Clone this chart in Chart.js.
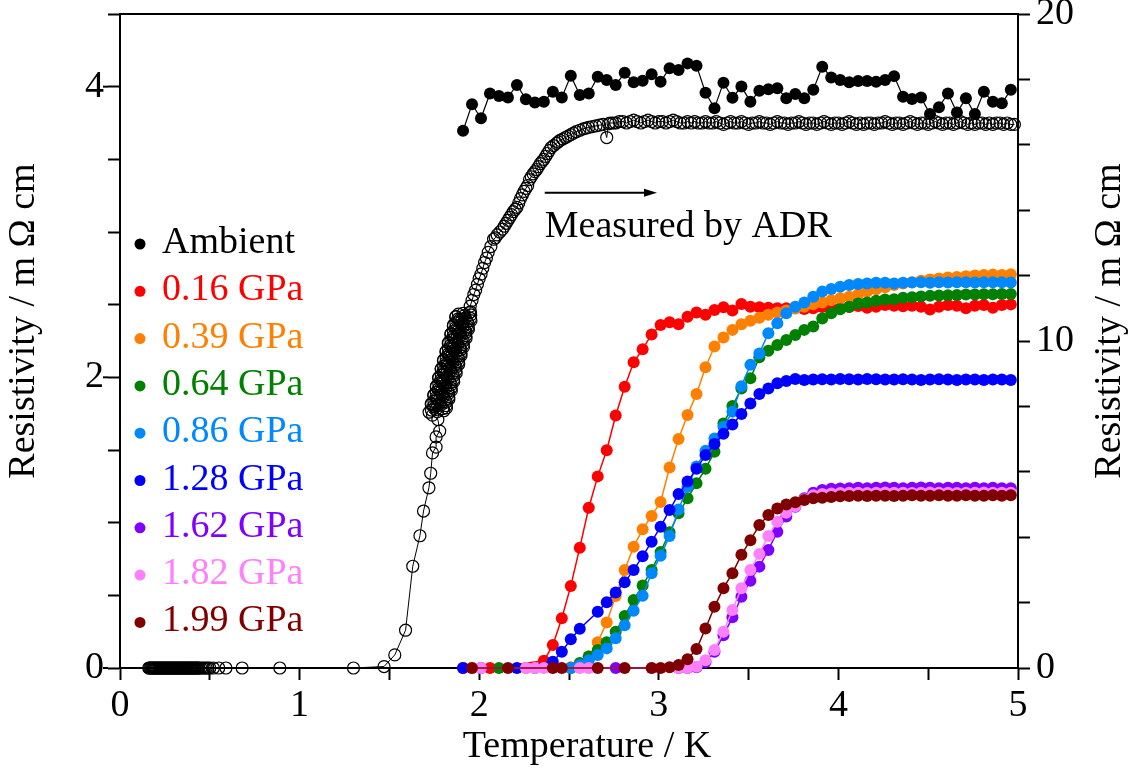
<!DOCTYPE html>
<html><head><meta charset="utf-8">
<script src="https://cdn.jsdelivr.net/npm/chart.js@4.4.1/dist/chart.umd.min.js"></script>
<style>html,body{margin:0;padding:0;background:#fff;}#wrap{width:1133px;height:782px;}</style>
</head><body><div id="wrap"><canvas id="c" width="1133" height="782"></canvas></div>
<script>
// ---------- DATA ----------
const temps = [1.91,1.96,2.01,2.06,2.11,2.16,2.21,2.26,2.31,2.36,2.41,2.46,2.51,2.56,2.61,2.66,2.71,2.76,2.81,2.86,
  2.91,2.96,3.01,3.06,3.11,3.16,3.21,3.26,3.31,3.36,3.41,3.46,3.51,3.56,3.61,3.66,3.71,3.76,3.81,3.86,
  3.91,3.96,4.01,4.06,4.11,4.16,4.21,4.26,4.31,4.36,4.41,4.46,4.51,4.56,4.61,4.66,4.71,4.76,4.81,4.86,4.91,4.96];

const ambient = [16.43,17.24,16.81,17.57,17.49,17.45,17.83,17.39,17.29,17.32,17.62,17.45,18.11,17.52,17.57,18.08,17.98,17.83,18.20,17.91,
  17.96,18.16,17.93,18.34,18.29,18.49,18.42,17.59,17.12,17.90,17.44,17.78,17.32,17.65,17.70,17.73,17.42,17.55,17.42,17.68,
  18.39,18.06,17.98,17.91,17.95,17.95,17.93,17.98,18.10,17.47,17.40,17.45,16.94,17.15,17.57,16.99,17.42,16.94,17.62,17.32,17.27,17.68];

const p016 = [0,null,null,0,null,null,null,null,null,0.22,0.70,1.52,2.51,3.68,4.90,5.86,6.66,7.72,8.60,9.35,
  9.75,10.20,10.49,10.57,10.51,10.74,10.87,10.80,10.95,11.03,10.93,11.13,11.05,11.03,11.02,11.00,11.00,11.01,10.98,11.00,
  11.04,11.00,11.00,11.04,11.07,11.02,11.05,11.10,11.08,11.06,11.08,11.05,10.96,11.05,11.10,11.08,11.00,11.08,11.10,11.02,11.10,11.12];

const p039 = [null,0,null,null,null,null,null,0,null,null,null,null,0.02,0.12,0.35,0.79,1.39,2.20,3.00,3.71,
  4.24,4.65,5.08,6.13,7.00,7.74,8.38,9.20,9.83,10.11,10.34,10.51,10.62,10.71,10.80,10.87,10.93,10.99,11.05,11.12,
  11.18,11.25,11.31,11.35,11.43,11.51,11.58,11.64,11.71,11.76,11.80,11.84,11.88,11.91,11.94,11.96,11.98,12.00,12.02,12.03,12.02,12.04];

const p064 = [null,null,null,null,0,null,null,null,null,null,null,null,0,0.15,0.35,0.55,0.79,1.11,1.59,2.08,
  2.52,3.00,3.55,4.15,4.73,5.19,5.65,6.09,6.61,7.48,8.01,8.55,8.86,9.50,9.70,9.88,10.03,10.18,10.34,10.44,
  10.69,10.85,10.97,11.05,11.15,11.18,11.23,11.27,11.28,11.32,11.34,11.36,11.38,11.39,11.40,11.41,11.42,11.42,11.43,11.43,11.44,11.44];

const p086 = [null,null,null,null,null,null,null,null,null,null,null,null,0,0.09,0.24,0.40,0.60,0.91,1.31,1.75,
  2.21,2.90,3.43,4.04,4.85,5.54,6.16,6.64,7.02,7.38,7.84,8.62,9.27,9.62,10.24,10.54,10.85,11.05,11.18,11.35,
  11.51,11.59,11.66,11.71,11.74,11.76,11.78,11.78,11.76,11.78,11.79,11.80,11.78,11.80,11.79,11.80,11.80,11.79,11.80,11.80,11.80,11.79];

const p128 = [0,null,null,null,null,null,0,null,null,null,0.19,0.50,0.88,1.20,null,1.72,2.01,2.31,2.62,3.00,
  3.42,3.86,4.32,4.83,5.32,5.70,6.09,6.51,6.85,7.16,7.45,7.77,8.09,8.38,8.55,8.71,8.78,8.84,8.81,8.82,
  8.83,8.82,8.84,8.83,8.82,8.84,8.83,8.82,8.82,8.83,8.82,8.81,8.82,8.83,8.82,8.81,8.82,8.82,8.81,8.82,8.82,8.81];

const p162 = [null,null,0,null,null,null,null,null,0,null,null,null,null,null,null,null,null,0,null,null,
  null,null,null,null,0,0,0.02,0.18,0.50,1.00,1.55,2.18,2.67,3.10,3.61,4.17,4.63,4.93,5.19,5.36,
  5.44,5.48,5.49,5.50,5.51,5.50,5.51,5.52,5.51,5.50,5.51,5.52,5.51,5.50,5.51,5.51,5.50,5.51,5.50,5.51,5.50,5.50];

const p182 = [null,null,0,null,null,null,null,0,0,0,null,null,null,0,0,null,null,null,null,null,
  null,0,null,null,0,0,0.04,0.24,0.55,1.11,1.77,2.44,3.00,3.49,4.04,4.47,4.75,4.95,5.16,5.28,
  5.32,5.34,5.35,5.36,5.36,5.35,5.36,5.37,5.36,5.36,5.35,5.36,5.37,5.36,5.36,5.35,5.36,5.36,5.37,5.36,5.36,5.36];

const p199 = [null,0,null,null,null,0,null,null,null,null,0,0,null,null,null,0,null,null,0,null,
  null,0,0,0.02,0.09,0.27,0.58,1.21,1.87,2.44,2.90,3.46,3.91,4.37,4.68,4.88,5.00,5.07,5.14,5.19,
  5.21,5.23,5.25,5.26,5.27,5.26,5.27,5.27,5.26,5.27,5.28,5.27,5.27,5.28,5.27,5.27,5.28,5.27,5.27,5.28,5.27,5.28];

// ADR (open circles), left axis: [T, rho]
const adrLow = [[0.160,0],[0.165,0],[0.170,0],[0.175,0],[0.180,0],[0.185,0],[0.190,0],[0.195,0],[0.200,0],[0.205,0],
  [0.210,0],[0.215,0],[0.220,0],[0.225,0],[0.230,0],[0.235,0],[0.240,0],[0.245,0],[0.250,0],[0.255,0],
  [0.260,0],[0.265,0],[0.270,0],[0.275,0],[0.280,0],[0.285,0],[0.290,0],[0.295,0],[0.300,0],[0.305,0],
  [0.310,0],[0.315,0],[0.320,0],[0.325,0],[0.330,0],[0.335,0],[0.340,0],[0.345,0],[0.350,0],[0.355,0],
  [0.360,0],[0.365,0],[0.370,0],[0.375,0],[0.380,0],[0.385,0],[0.390,0],[0.395,0],[0.400,0],[0.405,0],
  [0.410,0],[0.415,0],[0.420,0],[0.425,0],[0.430,0],[0.435,0],[0.440,0],[0.450,0],[0.460,0],[0.470,0],
  [0.480,0],[0.490,0],[0.500,0],[0.520,0],[0.550,0],[0.590,0],[0.680,0],[0.890,0],[1.300,0],[1.470,0.01]];
const adrRise = [[1.53,0.09],[1.59,0.26],[1.63,0.70],[1.67,0.91],[1.69,1.08],[1.72,1.24],[1.73,1.34],[1.74,1.48],
  [1.76,1.52],[1.76,1.59],[1.78,1.63],[1.77,1.71],[1.74,1.74]];
const adrBand = [[1.721,1.76],[1.803,1.77],[1.760,1.78],[1.818,1.79],[1.745,1.80],[1.787,1.81],[1.735,1.82],[1.817,1.83],
  [1.774,1.84],[1.831,1.85],[1.759,1.86],[1.801,1.87],[1.748,1.88],[1.830,1.89],[1.788,1.90],[1.845,1.91],[1.772,1.92],
  [1.814,1.93],[1.762,1.94],[1.844,1.95],[1.801,1.96],[1.858,1.97],[1.786,1.98],[1.828,1.99],[1.775,2.00],[1.857,2.01],
  [1.815,2.02],[1.872,2.03],[1.799,2.04],[1.842,2.05],[1.789,2.06],[1.871,2.07],[1.828,2.08],[1.886,2.09],[1.813,2.10],
  [1.855,2.11],[1.802,2.12],[1.885,2.13],[1.842,2.14],[1.899,2.15],[1.827,2.16],[1.869,2.17],[1.816,2.18],[1.898,2.19],
  [1.856,2.20],[1.913,2.21],[1.840,2.22],[1.882,2.23],[1.830,2.24],[1.912,2.25],[1.869,2.26],[1.927,2.27],[1.854,2.28],
  [1.896,2.29],[1.843,2.30],[1.926,2.31],[1.883,2.32],[1.940,2.33],[1.867,2.34],[1.910,2.35],[1.857,2.36],[1.939,2.37],
  [1.897,2.38],[1.954,2.39],[1.881,2.40],[1.923,2.41],[1.871,2.42],[1.953,2.43],[1.910,2.44],[1.952,2.45]];
const adrBand2 = [[1.767,1.765],[1.734,1.775],[1.797,1.785],[1.754,1.795],[1.816,1.805],[1.733,1.815],[1.781,1.825],
  [1.748,1.835],[1.810,1.845],[1.767,1.855],[1.830,1.865],[1.747,1.875],[1.794,1.885],[1.761,1.895],[1.824,1.905],
  [1.781,1.915],[1.843,1.925],[1.761,1.935],[1.808,1.945],[1.775,1.955],[1.837,1.965],[1.795,1.975],[1.857,1.985],
  [1.774,1.995],[1.821,2.005],[1.789,2.015],[1.851,2.025],[1.808,2.035],[1.870,2.045],[1.788,2.055],[1.835,2.065],
  [1.802,2.075],[1.864,2.085],[1.822,2.095],[1.884,2.105],[1.801,2.115],[1.848,2.125],[1.816,2.135],[1.878,2.145],
  [1.835,2.155],[1.898,2.165],[1.815,2.175],[1.862,2.185],[1.829,2.195],[1.892,2.205],[1.849,2.215],[1.911,2.225],
  [1.828,2.235],[1.876,2.245],[1.843,2.255],[1.905,2.265],[1.863,2.275],[1.925,2.285],[1.842,2.295],[1.889,2.305],
  [1.857,2.315],[1.919,2.325],[1.876,2.335],[1.938,2.345],[1.856,2.355],[1.903,2.365],[1.870,2.375],[1.933,2.385],
  [1.890,2.395],[1.952,2.405],[1.869,2.415],[1.917,2.425],[1.884,2.435],[1.946,2.445]];
const adrUpper = [[1.95,2.49],[1.96,2.53],[1.97,2.57],[1.98,2.60],[1.99,2.64],[2.00,2.68],[2.01,2.71],[2.02,2.75],
  [2.03,2.79],[2.04,2.82],[2.05,2.86],[2.065,2.90],[2.08,2.95],[2.09,2.96],[2.10,2.98],[2.115,3.00],[2.13,3.02],
  [2.14,3.04],[2.15,3.06],[2.16,3.08],[2.17,3.10],[2.18,3.12],[2.19,3.14],[2.20,3.155],[2.21,3.17],[2.22,3.20],
  [2.23,3.23],[2.24,3.255],[2.25,3.28],[2.26,3.30],[2.27,3.32],[2.28,3.36],[2.29,3.38],[2.30,3.40],[2.31,3.415],
  [2.32,3.43],[2.33,3.45],[2.34,3.47],[2.35,3.485],[2.36,3.50],[2.37,3.52],[2.38,3.54],[2.39,3.56],[2.40,3.58],
  [2.415,3.595],[2.43,3.61],[2.44,3.62],[2.45,3.63],[2.465,3.64],[2.48,3.65],[2.495,3.66],[2.51,3.67],[2.525,3.68],
  [2.54,3.69],[2.56,3.70],[2.58,3.71],[2.595,3.715],[2.61,3.72],[2.63,3.725],[2.65,3.73],[2.67,3.735],[2.69,3.74],
  [2.71,3.65],[2.72,3.745],[2.73,3.75],[2.745,3.75],[2.76,3.75],[2.78,3.76]];
const adrPlateau = [[2.80,3.76],[2.82,3.75],[2.84,3.76],[2.86,3.77],[2.88,3.76],[2.90,3.75],[2.92,3.76],[2.94,3.77],[2.96,3.76],[2.98,3.75],
  [3.00,3.76],[3.02,3.76],[3.04,3.75],[3.06,3.76],[3.08,3.77],[3.10,3.76],[3.12,3.75],[3.14,3.75],[3.16,3.76],[3.18,3.75],
  [3.20,3.76],[3.22,3.75],[3.24,3.75],[3.26,3.76],[3.28,3.75],[3.30,3.75],[3.32,3.76],[3.34,3.75],[3.36,3.74],[3.38,3.75],
  [3.40,3.76],[3.42,3.75],[3.44,3.75],[3.46,3.76],[3.48,3.75],[3.50,3.74],[3.52,3.75],[3.54,3.75],[3.56,3.76],[3.58,3.75],
  [3.60,3.75],[3.62,3.74],[3.64,3.75],[3.66,3.76],[3.68,3.75],[3.70,3.75],[3.72,3.74],[3.74,3.75],[3.76,3.75],[3.78,3.76],
  [3.80,3.75],[3.82,3.74],[3.84,3.75],[3.86,3.75],[3.88,3.74],[3.90,3.75],[3.92,3.76],[3.94,3.75],[3.96,3.74],[3.98,3.75],
  [4.00,3.75],[4.02,3.74],[4.04,3.75],[4.06,3.76],[4.08,3.75],[4.10,3.74],[4.12,3.75],[4.14,3.74],[4.16,3.75],[4.18,3.75],
  [4.20,3.74],[4.22,3.75],[4.24,3.75],[4.26,3.76],[4.28,3.75],[4.30,3.74],[4.32,3.75],[4.34,3.75],[4.36,3.74],[4.38,3.75],
  [4.40,3.76],[4.42,3.75],[4.44,3.74],[4.46,3.75],[4.48,3.75],[4.50,3.74],[4.52,3.75],[4.54,3.76],[4.56,3.75],[4.58,3.74],
  [4.60,3.75],[4.62,3.75],[4.64,3.74],[4.66,3.75],[4.68,3.76],[4.70,3.75],[4.72,3.74],[4.74,3.75],[4.76,3.74],[4.78,3.75],
  [4.80,3.75],[4.82,3.74],[4.84,3.75],[4.86,3.74],[4.88,3.75],[4.90,3.75],[4.92,3.74],[4.94,3.75],[4.96,3.74],[4.98,3.74]];

const seriesLabels = ['Ambient','0.16 GPa','0.39 GPa','0.64 GPa','0.86 GPa','1.28 GPa','1.62 GPa','1.82 GPa','1.99 GPa'];
const seriesColors = ['#000000','#ff0000','#ff8000','#008000','#0088ff','#0000ff','#8000ff','#ff80ff','#800000'];
const seriesValues = [ambient,p016,p039,p064,p086,p128,p162,p182,p199];

const xTickLabels = [0,1,2,3,4,5];
const yLeftTickLabels = [0,2,4];
const yRightTickLabels = [0,10,20];

// ---------- CHART ----------
const FONT = "'Liberation Serif', 'Times New Roman', serif";
Chart.defaults.font.family = FONT;
Chart.defaults.color = '#000';

const datasets = seriesValues.map((vals, i) => ({
  label: seriesLabels[i],
  data: temps.map((t, k) => vals[k] == null ? null : {x: t, y: vals[k]}).filter(Boolean),
  yAxisID: 'y2',
  showLine: true,
  borderColor: seriesColors[i],
  backgroundColor: seriesColors[i],
  borderWidth: i === 0 ? 1.2 : 1.5,
  pointRadius: 6,
  pointBorderWidth: 0,
  pointBackgroundColor: seriesColors[i],
  order: 20 - i,
  clip: false
}));
const adrAll = [].concat(adrLow, adrRise, adrBand, adrBand2, adrUpper, adrPlateau);
datasets.push({
  label: 'Ambient (ADR)',
  data: adrAll.map(p => ({x: p[0], y: p[1]})),
  yAxisID: 'y',
  showLine: true,
  borderColor: '#000',
  borderWidth: 1,
  pointRadius: 6,
  pointBackgroundColor: 'rgba(0,0,0,0)',
  pointBorderColor: '#000',
  pointBorderWidth: 1.2,
  order: 30,
  clip: false
});

const tickFont = {family: FONT, size: 38};
const gridOpts = {display: true, drawOnChartArea: false, drawTicks: true, tickLength: 12, tickWidth: 2, tickColor: '#000'};
const borderOpts = {display: true, color: '#000', width: 2};

const decor = {
  id: 'decor',
  afterDraw(chart) {
    const {ctx, chartArea: a, scales} = chart;
    const xs = scales.x, yl = scales.y;
    ctx.save();
    ctx.strokeStyle = '#000';
    ctx.lineWidth = 2;
    ctx.beginPath(); ctx.moveTo(a.left - 1, a.top); ctx.lineTo(a.right + 1, a.top); ctx.stroke();
    yLeftTickLabels.forEach(v => {
      const py = yl.getPixelForValue(v);
      ctx.beginPath(); ctx.moveTo(a.left - 12, py); ctx.lineTo(a.left - 17, py); ctx.stroke();
    });
    ctx.fillStyle = '#000';
    ctx.font = '38px ' + FONT;
    ctx.textAlign = 'center';
    ctx.textBaseline = 'middle';
    ctx.fillText('Temperature / K', 587, 747);
    const cy = 321;
    [[24, cy], [1110, cy]].forEach(([tx, ty]) => {
      ctx.save(); ctx.translate(tx, ty); ctx.rotate(-Math.PI / 2);
      ctx.fillText('Resistivity / m \u03A9 cm', 0, 0);
      ctx.restore();
    });
    ctx.textAlign = 'left';
    ctx.textBaseline = 'alphabetic';
    seriesLabels.forEach((lab, i) => {
      const base = a.top + 239 + i * 47.3;
      ctx.fillStyle = seriesColors[i];
      ctx.beginPath(); ctx.arc(a.left + 20, base - 9, 5.5, 0, Math.PI * 2); ctx.fill();
      ctx.fillText(lab, a.left + 42, base);
    });
    const ax0 = xs.getPixelForValue(2.365), ax1 = xs.getPixelForValue(2.99), ay = yl.getPixelForValue(3.27);
    ctx.strokeStyle = '#000'; ctx.fillStyle = '#000'; ctx.lineWidth = 2;
    ctx.beginPath(); ctx.moveTo(ax0, ay); ctx.lineTo(ax1 - 10, ay); ctx.stroke();
    ctx.beginPath(); ctx.moveTo(ax1, ay); ctx.lineTo(ax1 - 13, ay - 4); ctx.lineTo(ax1 - 13, ay + 4); ctx.closePath(); ctx.fill();
    ctx.fillText('Measured by ADR', ax0, yl.getPixelForValue(2.967));
    ctx.restore();
  }
};

new Chart(document.getElementById('c'), {
  type: 'scatter',
  data: {datasets},
  options: {
    responsive: false,
    animation: false,
    devicePixelRatio: 1,
    layout: {padding: {top: 14, left: 0, right: 0, bottom: 0}},
    plugins: {legend: {display: false}, tooltip: {enabled: false}, title: {display: false}},
    scales: {
      x: {
        type: 'linear', position: 'bottom', min: 0, max: 5,
        ticks: {stepSize: 0.5, font: tickFont, color: '#000', padding: 3, maxRotation: 0,
          callback: v => xTickLabels.includes(v) ? String(v) : ''},
        grid: gridOpts, border: borderOpts,
        afterFit: s => { s.height = 114; s.paddingLeft = 0; s.paddingRight = 0; }
      },
      y: {
        type: 'linear', position: 'left', min: 0, max: 4.5,
        ticks: {stepSize: 0.5, font: tickFont, color: '#000', padding: 4,
          callback: v => yLeftTickLabels.includes(v) ? String(v) : ''},
        grid: gridOpts, border: borderOpts,
        afterFit: s => { s.width = 120; s.paddingTop = 0; s.paddingBottom = 0; }
      },
      y2: {
        type: 'linear', position: 'right', min: 0, max: 20,
        ticks: {stepSize: 2, font: tickFont, color: '#000', padding: 6,
          callback: v => yRightTickLabels.includes(v) ? String(v) : ''},
        grid: gridOpts, border: borderOpts,
        afterFit: s => { s.width = 115; s.paddingTop = 0; s.paddingBottom = 0; }
      }
    }
  },
  plugins: [decor]
});
</script>
</body></html>
